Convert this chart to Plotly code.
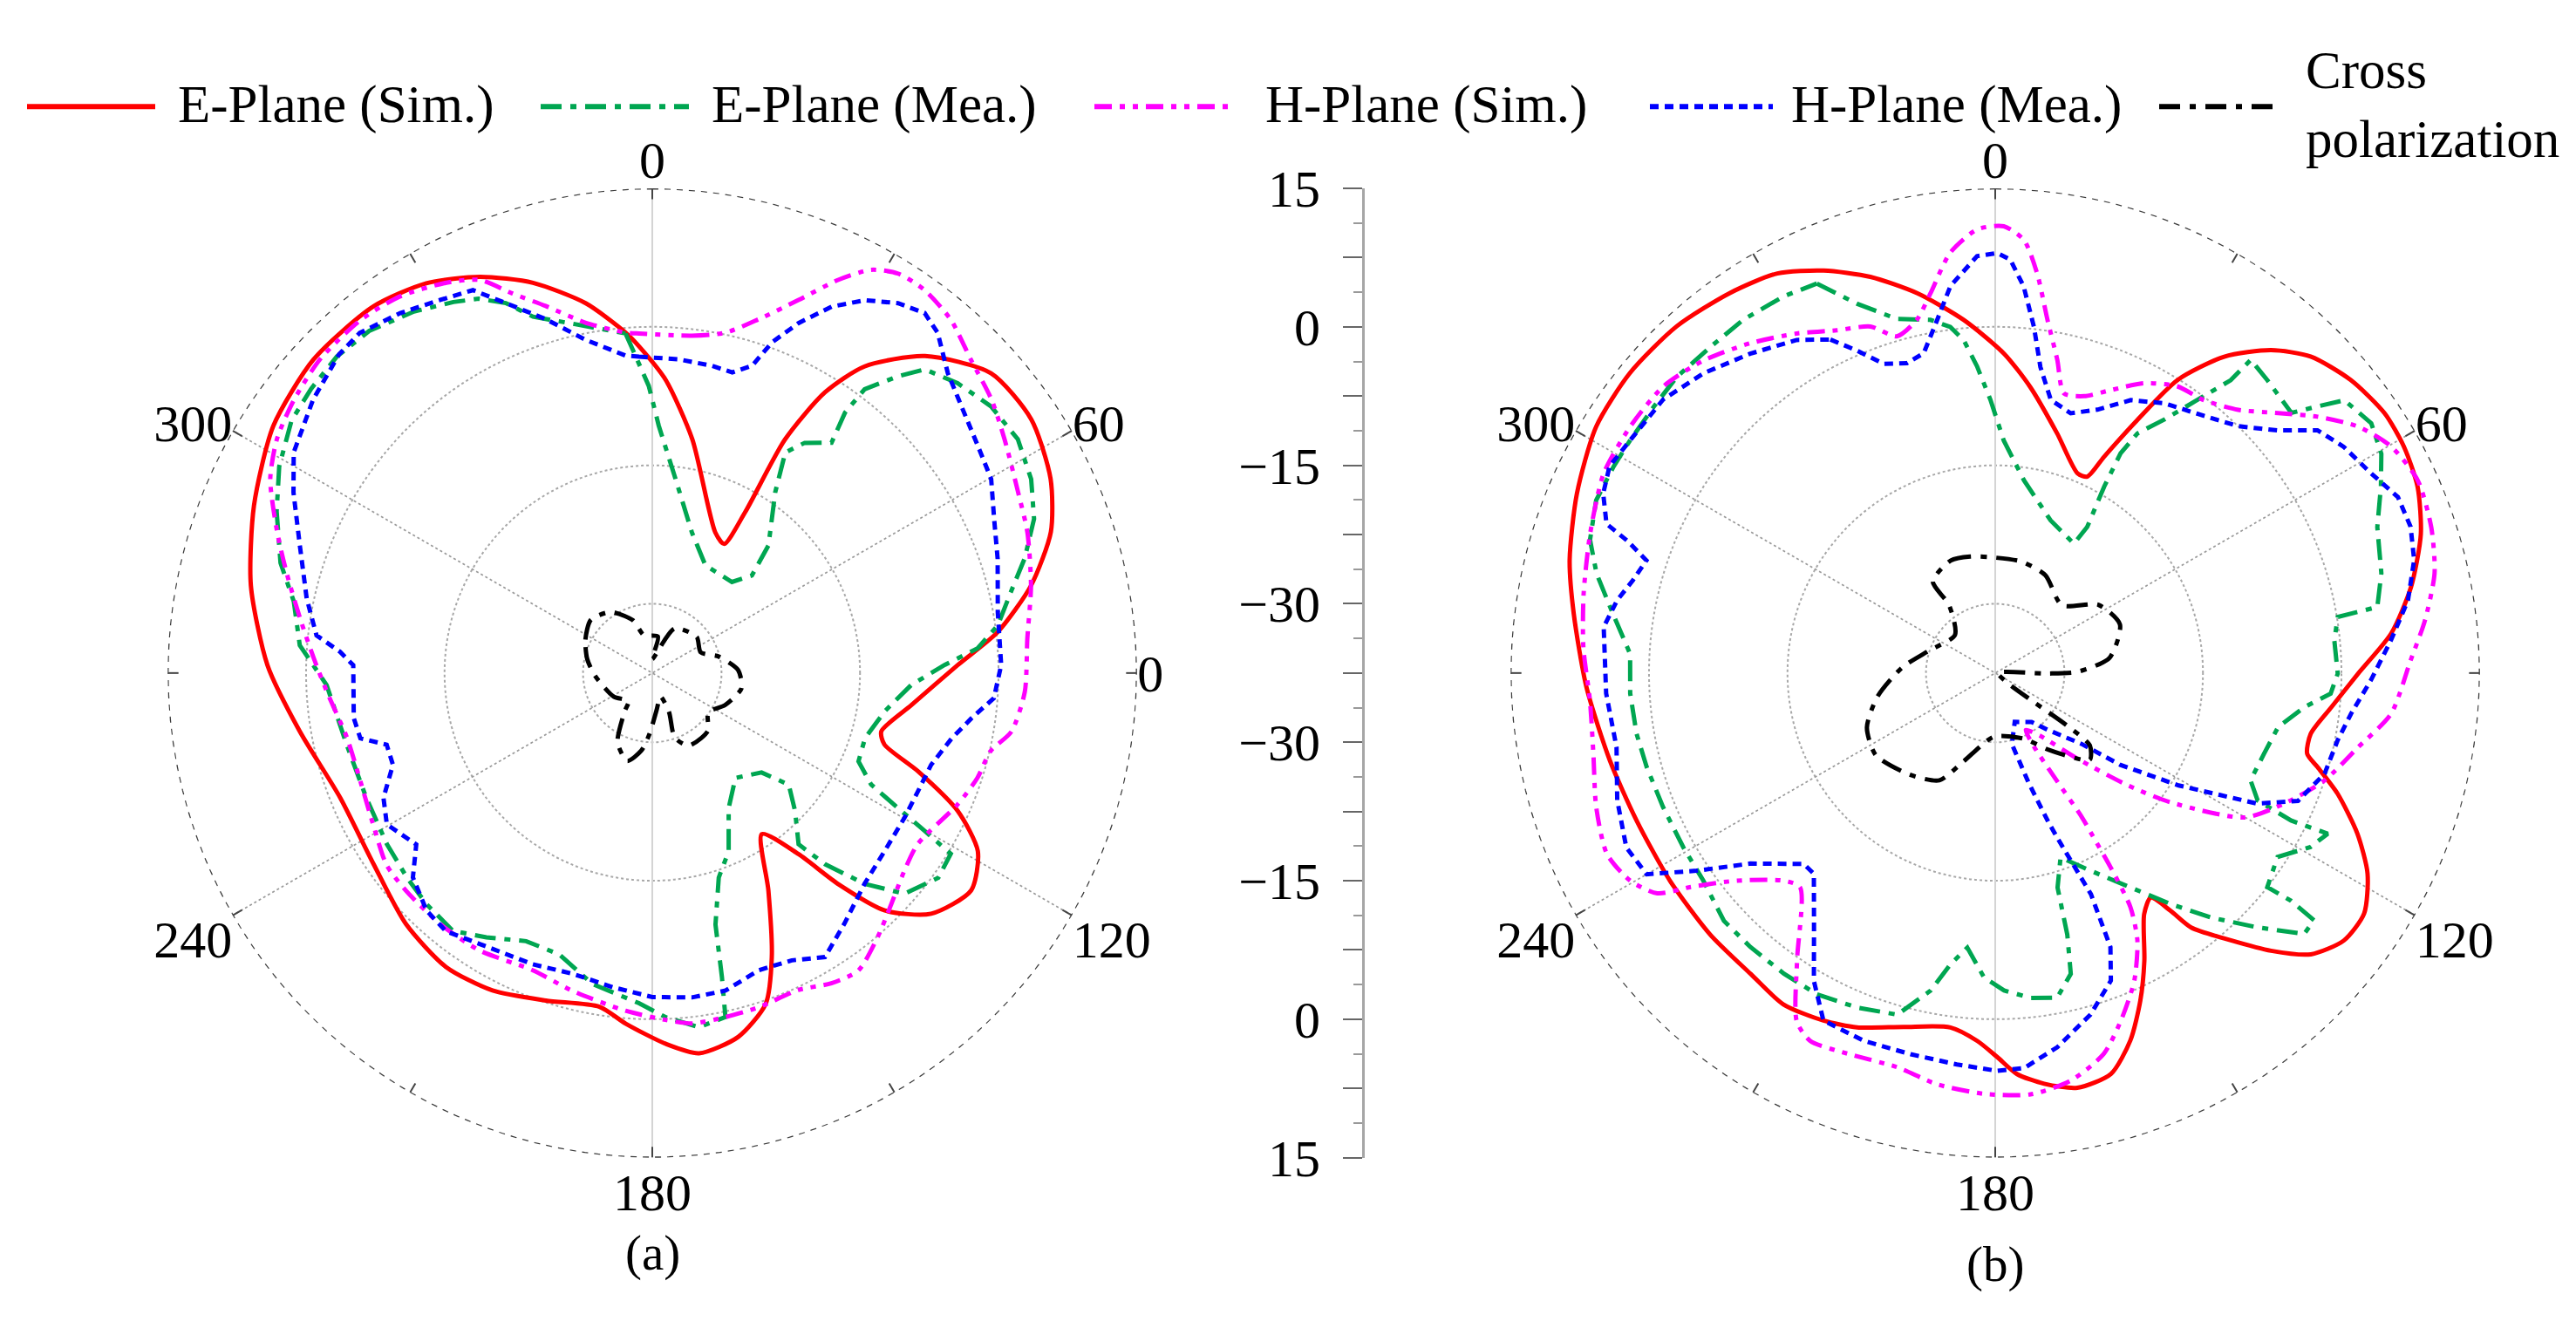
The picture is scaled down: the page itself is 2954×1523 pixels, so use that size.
import plotly.graph_objects as go

W, H = 2954, 1523
FONT = "Liberation Serif, Times New Roman, serif"

# ---------------- data (dB vs angle in degrees) ----------------
SERIES_NAMES = ["E-Plane (Sim.)", "E-Plane (Mea.)", "H-Plane (Sim.)", "H-Plane (Mea.)", "Cross<br>polarization"]

# (a)
A_E_SIM_T = [355.5, 357.7, 2.6, 9.7, 24.1, 29.1, 30.0, 29.6, 31.6, 34.7, 40.7, 48.5, 56.2, 64.0, 70.5, 77.0, 83.2, 88.5, 97.0, 104.3, 107.1, 110.3, 114.3, 118.7, 124.3, 130.8, 135.6, 138.6, 141.1, 145.8, 151.9, 157.2, 161.1, 166.7, 173.0, 177.9, 184.3, 189.0, 198.0, 206.7, 215.0, 224.4, 235.6, 248.2, 260.6, 271.2, 282.3, 292.8, 303.1, 312.8, 322.7, 329.9, 336.5, 343.0, 349.8]
A_E_SIM_R = [-0.5, -2.1, -5.7, -11.8, -20.8, -21.5, -17.4, -8.4, -1.8, 2.9, 7.8, 11.5, 11.9, 10.5, 8.3, 4.6, 0.2, -4.4, -9.2, -11.9, -11.2, -6.8, -1.2, 2.7, 4.3, 2.4, -1.5, -7.0, -12.3, -16.4, -10.8, -4.1, 0.4, 3.0, 4.0, 2.7, 0.6, -0.9, -0.2, 1.0, 1.4, 0.6, -0.9, -1.1, 1.2, 4.2, 7.0, 9.3, 11.5, 12.5, 12.4, 11.3, 9.3, 6.7, 3.2]

A_E_MEA_T = [355.5, 359.3, 1.5, 6.8, 15.8, 26.3, 41.2, 45.6, 42.3, 34.2, 31.1, 33.5, 37.9, 36.5, 36.8, 39.6, 41.9, 46.5, 51.8, 57.4, 62.9, 68.0, 72.9, 77.3, 82.1, 85.7, 88.4, 92.6, 99.4, 107.0, 113.2, 117.0, 118.8, 120.1, 121.2, 125.6, 131.2, 134.8, 137.9, 139.5, 134.0, 129.3, 132.3, 141.6, 150.5, 156.8, 162.0, 165.9, 167.1, 168.0, 172.5, 177.8, 182.3, 190.9, 198.3, 205.2, 212.1, 217.7, 224.3, 230.2, 237.2, 246.4, 256.8, 267.9, 274.5, 281.3, 286.5, 293.3, 299.0, 305.0, 309.8, 315.1, 320.4, 326.6, 331.8, 335.1, 338.4, 341.5, 347.2]
A_E_MEA_R = [-0.6, -6.4, -10.7, -16.3, -21.7, -24.5, -24.4, -22.4, -18.8, -13.8, -9.6, -7.6, -5.9, -2.4, 0.9, 4.2, 6.7, 8.1, 9.2, 9.5, 8.6, 7.1, 4.7, 2.3, 0.3, -2.2, -5.8, -9.4, -12.0, -13.4, -13.2, -10.9, -7.1, -3.4, 0.3, 0.6, -1.2, -5.1, -9.6, -13.1, -16.0, -18.4, -21.5, -23.0, -20.7, -16.5, -14.2, -9.4, -3.7, 0.6, 1.2, -0.2, -1.7, -3.2, -5.4, -5.4, -3.7, -2.2, -2.5, -2.9, -3.3, -3.7, -3.5, -2.2, 0.8, 2.1, 4.5, 6.8, 8.7, 10.2, 10.6, 10.9, 10.6, 9.4, 8.1, 7.2, 5.6, 3.2, 1.3]

A_H_SIM_T = [357.8, 6.7, 12.1, 16.7, 21.4, 25.3, 28.5, 31.6, 35.4, 40.2, 45.5, 51.1, 56.4, 63.7, 69.4, 77.0, 84.7, 92.9, 99.3, 103.0, 107.9, 113.3, 122.8, 128.1, 134.0, 139.5, 145.3, 150.0, 155.3, 162.4, 168.0, 173.5, 177.8, 184.5, 194.1, 201.9, 211.9, 220.2, 228.4, 234.2, 241.5, 250.2, 258.0, 266.7, 272.5, 278.8, 285.4, 290.6, 296.9, 301.9, 307.3, 313.4, 320.4, 326.2, 332.2, 336.3, 339.8, 343.8, 349.3, 355.5]
A_H_SIM_R = [-0.7, -0.7, 0.2, 2.5, 5.9, 9.6, 12.2, 13.3, 13.4, 12.6, 10.9, 9.7, 8.3, 6.7, 5.9, 4.6, 3.3, 2.9, 1.9, 0.1, -0.5, -1.5, -3.3, -2.8, -1.5, 0.1, 1.7, 1.3, 0.3, 0.5, 0.6, 0.7, 0.1, -0.8, -2.0, -2.8, -2.1, -1.9, -1.9, -2.0, -3.1, -3.8, -3.7, -2.2, -0.8, 1.1, 3.6, 5.9, 8.9, 10.4, 11.3, 12.0, 12.1, 11.6, 10.3, 9.0, 6.3, 3.9, 1.1, -0.5]

A_H_MEA_T = [357.6, 4.8, 11.0, 14.9, 18.0, 19.9, 22.7, 26.1, 29.7, 33.6, 37.1, 40.0, 44.6, 48.2, 55.1, 60.2, 65.8, 71.7, 80.0, 88.7, 94.2, 98.1, 102.3, 108.2, 114.0, 119.8, 127.4, 134.8, 142.5, 148.7, 154.1, 160.3, 167.0, 173.0, 180.0, 187.2, 194.8, 202.3, 212.5, 218.6, 223.5, 229.5, 234.0, 240.3, 245.1, 250.5, 254.9, 257.4, 261.4, 271.5, 273.9, 276.4, 282.2, 289.9, 296.7, 301.6, 308.9, 315.5, 319.3, 325.0, 330.3, 334.9, 338.4, 343.3, 348.7, 355.2]
A_H_MEA_R = [-3.2, -3.4, -3.6, -3.8, -2.5, 0.6, 3.6, 6.7, 9.0, 10.6, 11.4, 10.6, 8.1, 7.0, 5.5, 4.8, 3.1, 1.9, 0.5, 0.3, -0.4, -2.6, -4.3, -5.7, -6.0, -6.0, -5.8, -5.1, -3.3, -1.5, -2.9, -3.3, -2.2, -2.1, -2.4, -3.2, -3.8, -3.4, -2.7, -1.7, -2.0, -3.4, -5.9, -4.4, -5.4, -7.7, -7.7, -5.1, -4.8, -5.1, -3.6, -0.9, 0.8, 3.1, 6.0, 8.1, 9.7, 10.9, 11.1, 10.1, 9.0, 8.3, 5.6, 2.5, -0.7, -3.0]

A_CROSS_T = [282.0, 296.6, 310.8, 325.7, 339.8, 347.5, 8.7, 0.0, 26.6, 50.9, 66.8, 76.0, 88.0, 99.8, 113.9, 125.0, 136.4, 153.4, 160.8, 156.8, 160.6, 173.7, 182.6, 188.1, 195.9, 206.6, 215.5, 220.4, 238.7, 267.2]
A_CROSS_R = [-30.3, -29.4, -28.7, -29.5, -31.4, -33.3, -33.5, -36.0, -32.1, -31.3, -31.8, -30.1, -28.2, -27.7, -28.9, -30.1, -28.8, -28.7, -30.1, -32.9, -34.8, -33.4, -30.9, -29.0, -27.6, -29.1, -32.3, -33.5, -32.6, -31.3]

# (b)
B_E_SIM_T = [342.5, 348.4, 354.9, 1.6, 7.0, 14.5, 22.4, 25.1, 26.7, 29.3, 31.9, 35.9, 40.5, 44.9, 50.5, 56.3, 61.1, 66.2, 71.9, 78.3, 84.3, 90.1, 95.8, 100.9, 104.5, 106.3, 109.4, 113.9, 118.3, 123.1, 127.5, 131.7, 135.2, 138.6, 142.4, 143.6, 145.3, 148.3, 152.6, 156.1, 159.8, 163.9, 168.8, 173.2, 176.9, 179.7, 182.8, 187.2, 194.5, 201.3, 206.3, 212.6, 219.1, 227.5, 237.4, 247.6, 257.2, 268.0, 278.0, 284.9, 293.2, 301.7, 309.4, 317.4, 325.1, 331.4, 336.9]
B_E_SIM_R = [7.5, 4.5, 0.9, -2.9, -6.3, -10.7, -14.1, -14.0, -11.3, -6.1, -0.1, 4.8, 8.5, 10.9, 12.4, 13.2, 13.1, 12.5, 11.0, 8.5, 5.6, 1.8, -0.9, -2.7, -2.6, -1.1, 1.8, 5.4, 8.3, 10.2, 10.1, 8.3, 4.9, 1.1, -2.7, -5.5, -7.9, -6.8, -2.4, 1.3, 4.9, 7.7, 8.3, 7.3, 6.0, 4.1, 2.4, 1.2, 2.1, 3.7, 4.5, 5.1, 4.5, 4.4, 4.3, 4.5, 5.3, 6.8, 8.6, 10.2, 11.8, 13.3, 13.7, 13.5, 12.7, 11.8, 9.9]

B_E_MEA_T = [335.4, 339.5, 344.5, 349.6, 352.6, 354.6, 356.6, 359.0, 2.1, 8.5, 19.9, 31.3, 32.2, 30.3, 29.7, 30.7, 33.7, 36.5, 38.8, 39.2, 42.9, 48.7, 50.4, 52.0, 56.4, 60.4, 64.2, 69.1, 75.5, 80.2, 80.7, 84.5, 90.1, 93.5, 96.3, 100.8, 106.7, 112.8, 115.9, 116.5, 115.8, 118.9, 123.1, 128.2, 127.6, 127.8, 130.2, 134.1, 138.6, 142.8, 147.7, 154.2, 160.5, 163.8, 164.6, 165.9, 169.2, 173.8, 178.4, 182.1, 185.8, 188.7, 191.5, 196.0, 202.4, 209.0, 215.1, 221.8, 227.6, 234.6, 240.8, 248.0, 254.9, 260.4, 266.8, 273.0, 278.8, 284.0, 288.2, 293.4, 298.4, 302.5, 307.9, 312.9, 318.9, 324.5, 330.7]
B_E_MEA_R = [8.9, 5.2, 2.3, 1.4, 0.3, -1.3, -4.2, -7.9, -12.3, -16.4, -19.9, -21.1, -18.8, -14.1, -10.1, -7.3, -4.5, -0.7, 3.2, 6.3, 5.8, 5.2, 7.8, 10.5, 11.4, 10.6, 8.9, 6.8, 5.7, 4.5, 0.1, -0.6, -0.4, -1.1, -3.8, -6.3, -7.1, -7.5, -5.9, -1.7, 2.5, 1.5, -1.0, 0.0, 2.9, 6.2, 6.3, 2.1, -2.2, -6.1, -10.0, -13.7, -16.3, -13.3, -8.1, -3.9, -1.7, -2.1, -3.1, -4.5, -7.6, -5.6, -2.4, 1.0, 1.7, 2.3, 2.3, 2.3, 2.3, 1.3, 1.2, 1.3, 1.6, 1.9, 2.1, 2.1, 4.4, 7.0, 8.7, 9.6, 9.5, 9.4, 9.4, 9.6, 9.4, 9.5, 9.3]

B_H_SIM_T = [340.2, 343.7, 347.5, 350.3, 353.9, 357.7, 1.1, 3.8, 6.0, 8.4, 11.2, 13.8, 17.8, 22.2, 27.2, 32.5, 37.4, 42.7, 47.4, 51.5, 55.8, 60.2, 65.5, 71.5, 77.2, 83.0, 88.3, 95.9, 101.6, 108.1, 114.4, 120.1, 126.4, 130.2, 136.4, 144.6, 151.8, 152.2, 150.3, 149.0, 149.1, 149.3, 150.0, 152.0, 155.7, 160.2, 164.1, 169.5, 175.2, 181.5, 188.0, 194.0, 200.8, 206.7, 209.7, 214.6, 222.3, 225.5, 231.2, 234.9, 236.9, 240.4, 245.0, 251.4, 258.6, 266.1, 273.6, 280.9, 289.0, 297.0, 304.0, 310.8, 317.0, 323.4, 329.7, 335.2]
B_H_SIM_R = [2.4, 0.5, 1.7, 4.2, 8.3, 10.6, 10.9, 9.5, 6.0, 1.2, -2.9, -6.3, -6.0, -4.4, -2.2, -0.7, -0.3, 1.3, 4.1, 7.1, 10.0, 11.9, 12.8, 12.3, 11.3, 9.4, 7.5, 5.6, 2.6, 0.0, -3.2, -6.3, -13.9, -18.6, -24.8, -29.2, -30.5, -28.5, -24.2, -19.4, -17.0, -13.0, -8.2, -4.7, -0.9, 2.6, 5.4, 7.4, 8.3, 8.1, 7.5, 6.5, 6.7, 7.1, 5.9, 0.3, -6.1, -5.4, -1.6, 2.8, 6.2, 8.0, 8.9, 8.1, 6.9, 6.5, 7.2, 7.9, 8.9, 10.1, 10.2, 10.0, 8.8, 7.0, 5.1, 3.4]

B_H_MEA_T = [333.7, 336.8, 340.2, 344.1, 347.4, 350.7, 353.4, 357.5, 0.3, 2.1, 4.2, 6.4, 8.4, 11.5, 16.2, 21.2, 26.4, 32.1, 37.9, 44.5, 49.3, 53.0, 57.0, 62.0, 66.4, 70.6, 74.9, 80.0, 85.3, 91.1, 96.5, 101.1, 107.0, 112.9, 116.5, 121.5, 126.3, 129.4, 137.2, 143.4, 158.2, 166.8, 163.1, 160.4, 159.3, 156.6, 157.2, 159.4, 164.4, 170.6, 175.8, 179.7, 185.6, 192.5, 199.7, 206.3, 210.5, 215.5, 222.1, 225.1, 232.1, 236.5, 240.0, 244.7, 251.4, 258.9, 267.0, 276.7, 280.9, 284.4, 287.9, 289.8, 291.0, 294.6, 298.2, 302.5, 309.5, 315.8, 322.5, 329.2]
B_H_MEA_R = [2.8, 0.5, -1.9, -2.6, -2.0, 1.3, 4.7, 7.7, 8.0, 7.3, 4.5, 0.2, -4.0, -7.3, -8.2, -6.9, -4.5, -3.0, -1.9, 0.0, 2.8, 6.2, 7.5, 8.6, 10.1, 10.2, 9.5, 7.9, 5.5, 3.2, 1.3, 0.3, -0.2, -1.9, -5.8, -14.2, -20.7, -25.4, -29.1, -30.9, -31.8, -29.6, -25.1, -20.4, -18.3, -11.4, -5.3, -1.9, 0.9, 3.6, 5.4, 5.6, 5.1, 4.8, 4.8, 4.5, 1.2, -3.7, -8.2, -8.2, -3.9, 1.3, 6.1, 6.7, 5.7, 4.3, 4.7, 5.2, 4.2, 3.0, 2.2, 4.9, 7.6, 9.2, 9.9, 9.4, 9.1, 7.8, 6.1, 4.5]

B_CROSS_T = [325.7, 338.4, 347.9, 0.0, 13.4, 27.2, 44.4, 56.5, 68.7, 82.4, 89.0, 90.6, 90.0, 128.7, 126.9, 126.2, 127.4, 132.6, 144.9, 157.0, 181.2, 199.8, 207.5, 220.3, 235.5, 247.0, 258.7, 273.4, 288.4, 313.4, 325.8]
B_CROSS_R = [-25.5, -24.4, -24.6, -25.0, -25.1, -25.6, -27.2, -24.1, -23.0, -25.0, -28.5, -31.8, -37.2, -35.6, -32.2, -27.8, -24.6, -23.6, -27.3, -29.8, -30.6, -27.3, -24.4, -23.1, -21.8, -22.4, -24.5, -27.4, -29.9, -31.5, -28.6]

# axes
R_MIN, R_MAX = -37.5, 15
R_GRID = [-30, -15, 0]
R_TICK_LABELS = [15, 0, -15, -30]
ANG_TICKS = list(range(0, 360, 30))
ANG_LABELS_A = {0: "0", 60: "60", 90: "0", 120: "120", 180: "180", 240: "240", 300: "300"}
ANG_LABELS_B = {0: "0", 60: "60", 120: "120", 180: "180", 240: "240", 300: "300"}
SPOKES = [0, 60, 120]
PANEL_LABELS = ["(a)", "(b)"]

# ---------------- styles ----------------
STYLES = [
    dict(color="#ff0000", dash="solid", shape="spline"),
    dict(color="#00a651", dash="24px,10px,7px,10px", shape="linear"),
    dict(color="#ff00ff", dash="20px,9px,6px,9px,6px,9px", shape="spline"),
    dict(color="#0000ff", dash="10px,7px", shape="linear"),
    dict(color="#000000", dash="24px,11px,7px,11px", shape="spline"),
]
LW = 5


def px(x):
    return x / W


def py(y):
    return 1 - y / H


fig = go.Figure()

PANELS = [
    ("polar", [(A_E_SIM_T, A_E_SIM_R), (A_E_MEA_T, A_E_MEA_R), (A_H_SIM_T, A_H_SIM_R),
               (A_H_MEA_T, A_H_MEA_R), (A_CROSS_T, A_CROSS_R)]),
    ("polar2", [(B_E_SIM_T, B_E_SIM_R), (B_E_MEA_T, B_E_MEA_R), (B_H_SIM_T, B_H_SIM_R),
                (B_H_MEA_T, B_H_MEA_R), (B_CROSS_T, B_CROSS_R)]),
]

for sub, series in PANELS:
    # spokes
    for a in SPOKES:
        vertical = (a % 180 == 0)
        fig.add_trace(go.Scatterpolar(
            r=[R_MAX, R_MIN, R_MAX], theta=[a, a, a + 180], subplot=sub, mode="lines",
            line=dict(color="#d4d4d4" if vertical else "#9a9a9a", width=2 if vertical else 1.6,
                      dash="solid" if vertical else "dot"),
            showlegend=False, hoverinfo="skip"))
    # outer dashed circle
    circ = list(range(0, 361, 2))
    fig.add_trace(go.Scatterpolar(
        r=[R_MAX] * len(circ), theta=circ, subplot=sub, mode="lines",
        line=dict(color="#3a3a3a", width=2.5, dash="7px,7px"), cliponaxis=False,
        showlegend=False, hoverinfo="skip"))
    for (t, r), name, st in zip(series, SERIES_NAMES, STYLES):
        fig.add_trace(go.Scatterpolar(
            r=list(r) + [r[0]], theta=list(t) + [t[0]], subplot=sub, mode="lines",
            name=name.replace("<br>", " "),
            line=dict(color=st["color"], width=LW, dash=st["dash"], shape=st["shape"],
                      smoothing=0.7 if st["shape"] == "spline" else None),
            cliponaxis=False, showlegend=False))

# middle radial scale (mirrored)
yt_vals, yt_text = [], []
for k in range(-7, 8):
    p = 7.5 * k
    yt_vals.append(p)
    db = abs(p) + R_MIN
    yt_text.append(("−" if db < 0 else "") + str(int(abs(db))) if (db in R_TICK_LABELS and p != 0) else "")

fig.add_trace(go.Scatter(x=[0.5], y=[0], xaxis="x", yaxis="y", mode="markers",
                         marker=dict(opacity=0), showlegend=False, hoverinfo="skip"))

CX = [740, 2280]
CY = 765
RAD = 581


def polar_layout(cx, labels):
    return dict(
        domain=dict(x=[px(cx - RAD), px(cx + RAD)], y=[py(CY + RAD), py(CY - RAD)]),
        bgcolor="white",
        angularaxis=dict(rotation=90, direction="clockwise", tickmode="array",
                         tickvals=ANG_TICKS, ticktext=[labels.get(a, "") for a in ANG_TICKS],
                         showgrid=False, showline=False, ticks="inside", ticklen=12,
                         tickwidth=2, tickcolor="#444",
                         tickfont=dict(family=FONT, size=60, color="black")),
        radialaxis=dict(range=[R_MIN, R_MAX], tickmode="array", tickvals=R_GRID,
                        showticklabels=False, ticks="", showline=False,
                        gridcolor="#a8a8a8", gridwidth=1.6, griddash="dot"),
    )


annotations = []
shapes = []

# legend built from shapes + text
LEG_LINE_X = [(23, 170), (612, 782), (1247, 1404), (1884, 2025), (2468, 2609)]
LEG_TEXT_X = [194, 806, 1441, 2044, 2634]
LEG_Y = 84
for (x0, x1), tx, name, st in zip(LEG_LINE_X, LEG_TEXT_X, SERIES_NAMES, STYLES):
    shapes.append(dict(type="line", xref="paper", yref="paper", x0=px(x0), x1=px(x1),
                       y0=py(LEG_Y + 2), y1=py(LEG_Y + 2),
                       line=dict(color=st["color"], width=LW + 1, dash=st["dash"])))
    annotations.append(dict(text=name, xref="paper", yref="paper", x=px(tx), y=py(LEG_Y),
                            xanchor="left", yanchor="middle", showarrow=False, align="left",
                            font=dict(family=FONT, size=61, color="black")))

for lab, cx, yy in zip(PANEL_LABELS, CX, [1460, 1474]):
    annotations.append(dict(text=lab, xref="paper", yref="paper", x=px(cx), y=py(yy),
                            xanchor="center", yanchor="middle", showarrow=False,
                            font=dict(family=FONT, size=57, color="black")))

fig.update_layout(
    width=W, height=H,
    margin=dict(l=0, r=0, t=0, b=0),
    paper_bgcolor="white", plot_bgcolor="rgba(0,0,0,0)",
    polar=polar_layout(CX[0], ANG_LABELS_A),
    polar2=polar_layout(CX[1], ANG_LABELS_B),
    xaxis=dict(domain=[px(1557), px(1562)], range=[0, 1], visible=False, fixedrange=True),
    yaxis=dict(domain=[py(CY + RAD), py(CY - RAD)], range=[-(R_MAX - R_MIN), R_MAX - R_MIN],
               anchor="x", side="left", showline=True, linecolor="#a6a6a6", linewidth=3,
               showgrid=False, zeroline=False, tickmode="array", tickvals=yt_vals, ticktext=yt_text,
               ticks="outside", ticklen=22, tickwidth=2, tickcolor="#666",
               ticklabelstandoff=14,
               minor=dict(tickmode="linear", tick0=0, dtick=3.75, ticks="outside", ticklen=10,
                          tickwidth=2, tickcolor="#999", showgrid=False),
               tickfont=dict(family=FONT, size=60, color="black"), fixedrange=True),
    annotations=annotations,
    shapes=shapes,
    showlegend=False,
)

fig.write_html("out.html")
